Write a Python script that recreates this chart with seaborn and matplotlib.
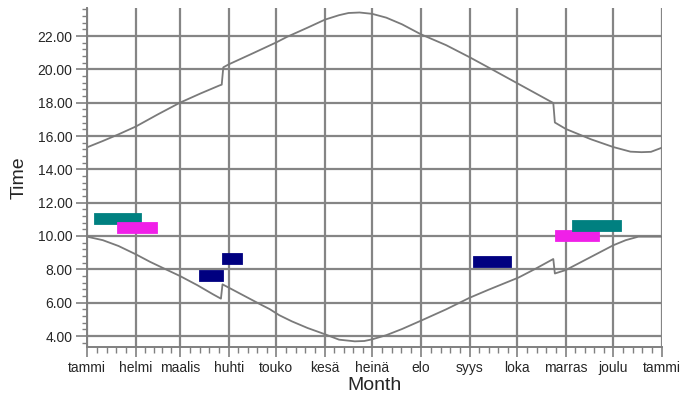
import numpy as np
import pandas as pd
import seaborn as sns
import matplotlib
matplotlib.use('Agg')
import matplotlib.pyplot as plt
from matplotlib.ticker import MultipleLocator, FixedLocator, FuncFormatter

# x axis: day of year, labelled at month starts (Finnish)
month_names = ['tammi', 'helmi', 'maalis', 'huhti', 'touko', 'kesä', 'heinä',
               'elo', 'syys', 'loka', 'marras', 'joulu', 'tammi']
month_starts = [0, 31, 59, 90, 120, 151, 181, 212, 243, 273, 304, 334, 365]

# sunrise / sunset curves (hours)
sunrise_day = [0, 10, 20, 31, 40, 50, 59, 70, 80, 85, 86, 90, 100, 110, 116, 122,
               130, 140, 150, 160, 170, 176, 181, 190, 200, 212, 228, 243, 255,
               274, 285, 296, 297, 304, 319, 334, 342, 350, 365]
sunrise_hour = [9.96, 9.75, 9.4, 8.9, 8.45, 8.0, 7.6, 7.05, 6.5, 6.24, 7.1, 6.9,
                6.4, 5.9, 5.61, 5.25, 4.88, 4.48, 4.14, 3.78, 3.68, 3.7, 3.8,
                4.05, 4.42, 4.92, 5.6, 6.3, 6.78, 7.51, 8.05, 8.62, 7.75, 7.96,
                8.7, 9.44, 9.75, 9.96, 9.96]

sunset_day = [0, 10, 20, 31, 45, 59, 72, 84, 85.5, 86.5, 90, 105, 120, 127, 140,
              151, 160, 166, 173, 181, 190, 200, 212, 228, 243, 258, 274, 285,
              296, 297, 304, 320, 334, 345, 352, 358, 365]
sunset_hour = [15.32, 15.7, 16.1, 16.57, 17.3, 18.0, 18.55, 19.03, 19.08, 20.12,
               20.3, 20.95, 21.61, 21.95, 22.5, 22.98, 23.25, 23.38, 23.41, 23.33,
               23.1, 22.7, 22.1, 21.45, 20.72, 19.95, 19.12, 18.55, 17.98, 16.81,
               16.42, 15.8, 15.34, 15.06, 15.03, 15.05, 15.3]

# observation clusters (start and end day, time)
obs_group = ['teal1', 'teal1', 'mag1', 'mag1', 'navy1', 'navy1', 'navy2', 'navy2',
             'navy3', 'navy3', 'mag2', 'mag2', 'teal2', 'teal2']
obs_day = [8, 31, 23, 41, 75, 83, 89.5, 95, 249, 266, 301, 322, 312, 336]
obs_hour = [11.0, 11.0, 10.5, 10.5, 7.58, 7.58, 8.6, 8.6, 8.47, 8.47,
            10.02, 10.02, 10.6, 10.6]
group_colors = {'teal1': '#008080', 'teal2': '#008080',
                'mag1': '#f020e8', 'mag2': '#f020e8',
                'navy1': '#000080', 'navy2': '#000080', 'navy3': '#000080'}

curves = pd.concat([
    pd.DataFrame({'day': sunrise_day, 'hour': sunrise_hour, 'curve': 'sunrise'}),
    pd.DataFrame({'day': sunset_day, 'hour': sunset_hour, 'curve': 'sunset'}),
])
obs = pd.DataFrame({'day': obs_day, 'hour': obs_hour, 'group': obs_group})

sns.set_style('white')
plt.rcParams['font.family'] = ['Liberation Sans', 'DejaVu Sans']

fig = plt.figure(figsize=(6.8, 4), dpi=100)
ax = fig.add_axes([0.128, 0.1325, 0.8455, 0.8475])

sns.lineplot(data=curves, x='day', y='hour', units='curve', estimator=None,
             sort=False, color='#7a7a7a', linewidth=1.3, ax=ax)
sns.lineplot(data=obs, x='day', y='hour', hue='group', units='group',
             estimator=None, sort=False, palette=group_colors, linewidth=8.5,
             solid_capstyle='projecting', solid_joinstyle='round',
             legend=False, ax=ax)

ax.set_xlim(0, 365)
ax.set_ylim(3.34, 23.68)

# month grid + 5 minor steps per month
minor_x = []
for a, b in zip(month_starts[:-1], month_starts[1:]):
    minor_x += list(np.linspace(a, b, 6)[1:-1])
ax.xaxis.set_major_locator(FixedLocator(month_starts))
ax.xaxis.set_minor_locator(FixedLocator(minor_x))
ax.set_xticklabels(month_names)

ax.yaxis.set_major_locator(FixedLocator(list(range(4, 23, 2))))
ax.yaxis.set_minor_locator(MultipleLocator(0.4))
ax.yaxis.set_major_formatter(FuncFormatter(lambda v, p: f'{v:.2f}'))

ax.set_axisbelow(True)
ax.grid(True, which='major', color='#858585', linewidth=1.6)
for s in ['top', 'right']:
    ax.spines[s].set_visible(False)
for s in ['left', 'bottom']:
    ax.spines[s].set_color('#808080')
    ax.spines[s].set_linewidth(1.4)

ax.tick_params(axis='x', which='both', bottom=True, direction='out')
ax.tick_params(axis='y', which='both', left=True, direction='out')
ax.tick_params(axis='x', which='major', length=7.2, width=1.2, color='#808080',
               labelsize=10, pad=3)
ax.tick_params(axis='x', which='minor', length=4.3, width=1.0, color='#808080')
ax.tick_params(axis='y', which='major', length=7.9, width=1.2, color='#808080',
               labelsize=10, pad=2.5)
ax.tick_params(axis='y', which='minor', length=3.6, width=1.0, color='#808080')

ax.set_xlabel('Month', fontsize=14, labelpad=1)
ax.set_ylabel('Time', fontsize=14, labelpad=7)

plt.savefig('out.png', dpi=100)
